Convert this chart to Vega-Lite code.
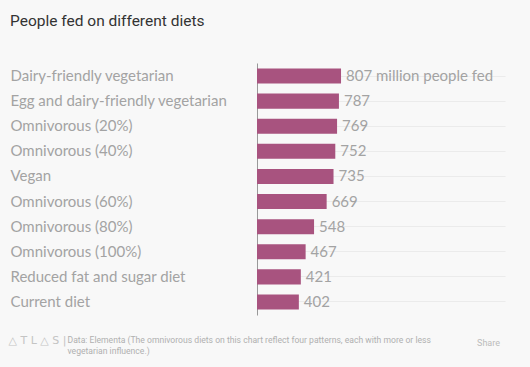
{
  "$schema": "https://vega.github.io/schema/vega-lite/v6.json",
  "width": 248,
  "height": 252,
  "autosize": {"type": "none"},
  "padding": {"left": 257, "top": 63, "right": 25, "bottom": 52},
  "background": "#f8f8f8",
  "title": {
    "text": "People fed on different diets",
    "anchor": "start",
    "frame": "bounds",
    "dx": 2,
    "offset": 34,
    "font": "Roboto",
    "fontSize": 15.5,
    "fontWeight": "normal",
    "color": "#333333"
  },
  "data": {
    "values": [
      {"diet": "Dairy-friendly vegetarian", "value": 807, "label": "807 million people fed"},
      {"diet": "Egg and dairy-friendly vegetarian", "value": 787, "label": "787"},
      {"diet": "Omnivorous (20%)", "value": 769, "label": "769"},
      {"diet": "Omnivorous (40%)", "value": 752, "label": "752"},
      {"diet": "Vegan", "value": 735, "label": "735"},
      {"diet": "Omnivorous (60%)", "value": 669, "label": "669"},
      {"diet": "Omnivorous (80%)", "value": 548, "label": "548"},
      {"diet": "Omnivorous (100%)", "value": 467, "label": "467"},
      {"diet": "Reduced fat and sugar diet", "value": 421, "label": "421"},
      {"diet": "Current diet", "value": 402, "label": "402"}
    ]
  },
  "encoding": {
    "y": {
      "field": "diet",
      "type": "nominal",
      "sort": null,
      "scale": {"paddingInner": 0.4, "paddingOuter": 0.218}
    },
    "x": {
      "field": "value",
      "type": "quantitative",
      "scale": {"domain": [0, 2382], "nice": false},
      "axis": {
        "labels": false,
        "ticks": false,
        "domain": false,
        "grid": false,
        "title": ["Data:  Elementa (The omnivorous diets on this chart reflect four patterns, each with more or less", "vegetarian influence.)"],
        "titleX": -190,
        "titleY": 20,
        "titleAlign": "left",
        "titleAnchor": "start",
        "titleBaseline": "top",
        "titleFont": "Roboto",
        "titleFontSize": 8.6,
        "titleFontWeight": "normal",
        "titleColor": "#b0b0b0",
        "titleLineHeight": 11
      }
    }
  },
  "layer": [
    {
      "mark": {"type": "bar", "color": "#a8537f"},
      "encoding": {
        "y": {
          "field": "diet",
          "type": "nominal",
          "sort": null,
          "axis": {
            "domain": true,
            "domainColor": "#999999",
            "domainWidth": 1,
            "ticks": false,
            "labelAlign": "left",
            "labelBaseline": "middle",
            "labelPadding": 247,
            "labelFont": "Lato",
            "labelFontSize": 15,
            "labelColor": "#a3a3a3",
            "labelLimit": 300,
            "grid": true,
            "gridColor": "#ebebeb",
            "gridWidth": 1,
            "title": "△ T L △ S |",
            "titleAngle": 0,
            "titleX": -249,
            "titleY": 277,
            "titleAlign": "left",
            "titleBaseline": "middle",
            "titleFont": "DejaVu Sans",
            "titleFontSize": 11,
            "titleFontWeight": "normal",
            "titleColor": "#c4c4c4"
          }
        }
      }
    },
    {
      "mark": {
        "type": "text",
        "align": "left",
        "baseline": "middle",
        "dx": 5,
        "font": "Lato",
        "fontSize": 15,
        "color": "#a3a3a3"
      },
      "encoding": {
        "text": {"field": "label"},
        "y": {
          "field": "diet",
          "type": "nominal",
          "sort": null,
          "axis": {
            "orient": "right",
            "domain": false,
            "ticks": false,
            "labels": false,
            "grid": false,
            "title": "Share",
            "titleAngle": 0,
            "titleX": -17,
            "titleY": 279,
            "titleAlign": "center",
            "titleBaseline": "middle",
            "titleFont": "Roboto",
            "titleFontSize": 9,
            "titleFontWeight": "normal",
            "titleColor": "#bbbbbb"
          }
        }
      }
    }
  ],
  "resolve": {"axis": {"y": "independent"}},
  "config": {"view": {"stroke": null}}
}
